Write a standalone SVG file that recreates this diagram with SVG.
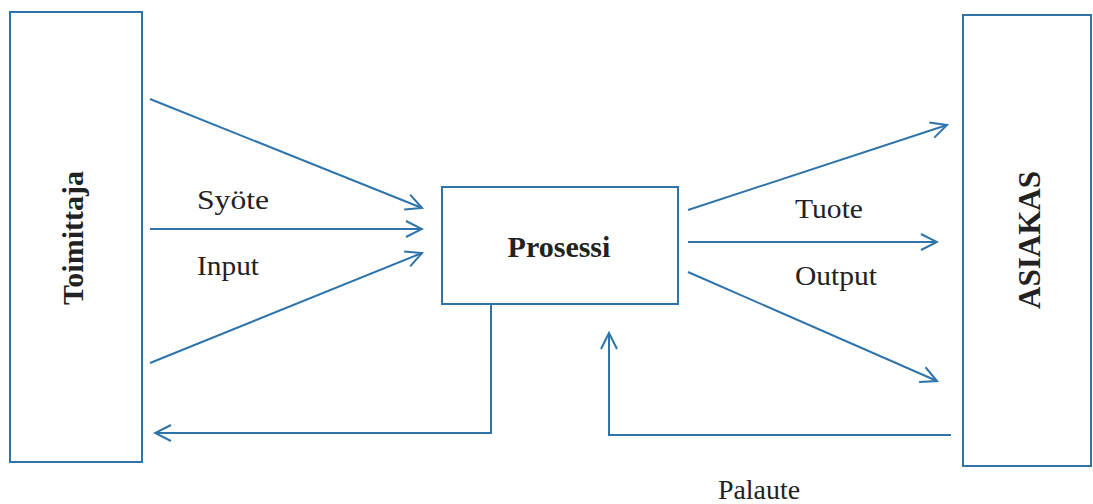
<svg xmlns="http://www.w3.org/2000/svg" width="1093" height="504" viewBox="0 0 1093 504">
  <style>
    .box { fill: #ffffff; stroke: #2e74aa; stroke-width: 2; }
    .line { fill: none; stroke: #2e74aa; stroke-width: 2; }
    .arrow { marker-end: url(#open); }
    .title { font-family: "Liberation Serif", serif; font-weight: bold; font-size: 30px; fill: #222; }
    .label { font-family: "Liberation Serif", serif; font-size: 28px; fill: #222; }
  </style>
  <defs>
    <marker id="open" viewBox="0 0 20 20" refX="18" refY="10" markerWidth="20" markerHeight="20" markerUnits="userSpaceOnUse" orient="auto">
      <path d="M2,2 L18,10 L2,18" fill="none" stroke="#2e74aa" stroke-width="2"/>
    </marker>
  </defs>
  <rect width="1093" height="504" fill="#ffffff"/>

  <g id="toimittaja">
    <rect class="box" x="10" y="12" width="132" height="450"/>
    <text class="title" transform="translate(83,238) rotate(-90)" text-anchor="middle">Toimittaja</text>
  </g>

  <g id="prosessi">
    <rect class="box" x="442" y="187" width="236" height="117"/>
    <text class="title" x="559" y="257" text-anchor="middle">Prosessi</text>
  </g>

  <g id="asiakas">
    <rect class="box" x="963" y="15" width="128" height="451"/>
    <text class="title" transform="translate(1040,240) rotate(-90)" text-anchor="middle" style="font-size:31px">ASIAKAS</text>
  </g>

  <g id="connectors">
    <!-- inputs -->
    <line class="line arrow" x1="150" y1="99" x2="422" y2="208"/>
    <line class="line arrow" x1="150" y1="229" x2="422" y2="229"/>
    <line class="line arrow" x1="150" y1="363" x2="422" y2="253"/>
    <!-- outputs -->
    <line class="line arrow" x1="688" y1="210" x2="947" y2="125"/>
    <line class="line arrow" x1="688" y1="242" x2="937" y2="242"/>
    <line class="line arrow" x1="688" y1="272" x2="937" y2="381"/>
    <!-- feedback to supplier -->
    <polyline class="line arrow" points="491,304 491,433 155,433"/>
    <!-- feedback from customer -->
    <polyline class="line arrow" points="951,435 609,435 609,333"/>
  </g>

  <g id="labels">
    <text class="label" x="197" y="209" textLength="72" lengthAdjust="spacingAndGlyphs">Syöte</text>
    <text class="label" x="197" y="275" textLength="62" lengthAdjust="spacingAndGlyphs">Input</text>
    <text class="label" x="795" y="218" textLength="68" lengthAdjust="spacingAndGlyphs">Tuote</text>
    <text class="label" x="795" y="285" textLength="82" lengthAdjust="spacingAndGlyphs">Output</text>
    <text class="label" x="718" y="499" textLength="82" lengthAdjust="spacingAndGlyphs">Palaute</text>
  </g>
</svg>
